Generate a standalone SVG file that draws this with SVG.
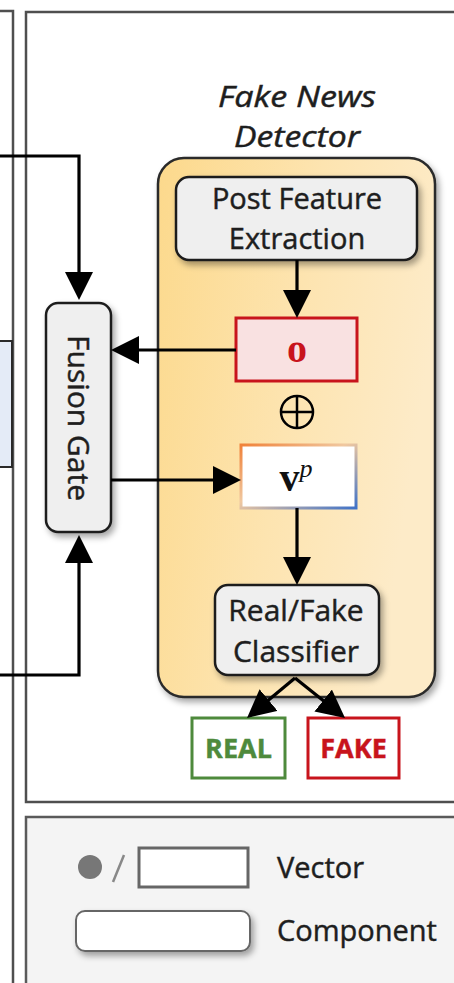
<svg xmlns="http://www.w3.org/2000/svg" width="454" height="983" viewBox="0 0 454 983">
  <defs>
    <style>
      .frame { fill: #ffffff; stroke: #4f4f4f; stroke-width: 2.5; }
      .conn { fill: none; stroke: #000; stroke-width: 3.2; }
      .comp { fill: #efefef; stroke: #1e1e1e; stroke-width: 2.5; }
      .lbl { font-family: "Open Sans", "Liberation Sans", sans-serif; fill: #1e1e1e; stroke: #1e1e1e; stroke-width: 0.45; text-anchor: middle; }
      .leg { font-family: "Open Sans", "Liberation Sans", sans-serif; fill: #1e1e1e; stroke: #1e1e1e; stroke-width: 0.45; font-size: 29px; }
      .math { font-family: "Liberation Serif", "DejaVu Serif", serif; text-anchor: middle; }
    </style>
    <linearGradient id="detGrad" x1="0" y1="0" x2="1" y2="0.3">
      <stop offset="0" stop-color="#fcd98c"/>
      <stop offset="0.55" stop-color="#fde4b0"/>
      <stop offset="1" stop-color="#fdebc8"/>
    </linearGradient>
    <linearGradient id="vpStroke" x1="0" y1="0" x2="1" y2="1">
      <stop offset="0" stop-color="#f0823a"/>
      <stop offset="0.45" stop-color="#f0c8a0"/>
      <stop offset="1" stop-color="#3f72c8"/>
    </linearGradient>
    <filter id="shadow" x="-20%" y="-20%" width="150%" height="150%">
      <feDropShadow dx="3" dy="4" stdDeviation="3" flood-color="#000" flood-opacity="0.35"/>
    </filter>
    <marker id="arrow" viewBox="0 0 28 28" markerUnits="userSpaceOnUse" markerWidth="28" markerHeight="28" refX="24" refY="14" orient="auto">
      <path d="M0,0 L28,14 L0,28 z" fill="#000"/>
    </marker>
  </defs>

  <!-- neighbouring panel edge on the left -->
  <g id="left-panel">
    <path d="M0,11 H13 V990" fill="none" stroke="#4f4f4f" stroke-width="2.5"/>
    <rect x="-6" y="341" width="18" height="126" fill="#e4ebf7" stroke="#2a2a2a" stroke-width="2"/>
  </g>

  <!-- main panel and legend panel -->
  <rect id="main-panel" class="frame" x="26" y="12" width="440" height="790"/>
  <rect id="legend-panel" x="26" y="817" width="440" height="180" fill="#f4f4f4" stroke="#5a5a5a" stroke-width="2.5"/>

  <!-- detector container -->
  <g id="detector">
    <rect x="158" y="158" width="277" height="539" rx="26" fill="url(#detGrad)" stroke="#2a2a2a" stroke-width="2.5" filter="url(#shadow)"/>
    <text class="lbl" font-style="italic" font-size="29" x="297" y="107" textLength="158" lengthAdjust="spacingAndGlyphs">Fake News</text>
    <text class="lbl" font-style="italic" font-size="29" x="297" y="147" textLength="126" lengthAdjust="spacingAndGlyphs">Detector</text>
  </g>

  <g id="post-feature-extraction">
    <rect class="comp" x="176" y="177" width="241" height="83" rx="13" filter="url(#shadow)"/>
    <text class="lbl" font-size="29" x="297" y="209">Post Feature</text>
    <text class="lbl" font-size="29" x="297" y="249">Extraction</text>
  </g>

  <g id="o-vector">
    <rect x="236" y="318" width="121" height="63" fill="#f9e1e1" stroke="#c8141c" stroke-width="3"/>
    <text class="math" font-size="40" font-weight="bold" fill="#c8141c" x="297" y="362">o</text>
  </g>

  <g id="oplus">
    <circle cx="297" cy="412" r="16" fill="none" stroke="#000" stroke-width="2.5"/>
    <path d="M281,412 H313 M297,396 V428" stroke="#000" stroke-width="2.5"/>
  </g>

  <g id="vp-vector">
    <rect x="241" y="445" width="115" height="63" fill="#ffffff" stroke="url(#vpStroke)" stroke-width="3"/>
    <text class="math" x="296" y="491" fill="#111"><tspan font-size="40" font-weight="bold">v</tspan><tspan font-size="26" font-style="italic" dy="-14">p</tspan></text>
  </g>

  <g id="fusion-gate">
    <rect class="comp" x="46" y="303" width="65" height="229" rx="12" filter="url(#shadow)"/>
    <text class="lbl" font-size="30" transform="translate(68,418) rotate(90)" x="0" y="0">Fusion Gate</text>
  </g>

  <g id="classifier">
    <rect class="comp" x="215" y="585" width="164" height="90" rx="13" filter="url(#shadow)"/>
    <text class="lbl" font-size="30" x="296" y="621">Real/Fake</text>
    <text class="lbl" font-size="30" x="296" y="662">Classifier</text>
  </g>

  <g id="real">
    <rect x="192" y="718" width="93" height="60" fill="#ffffff" stroke="#4e8a3c" stroke-width="3"/>
    <text class="lbl" font-size="27" x="238.5" y="758" style="fill:#4e8a3c;stroke:#4e8a3c;font-weight:700">REAL</text>
  </g>

  <g id="fake">
    <rect x="308" y="718" width="91" height="60" fill="#ffffff" stroke="#c8141c" stroke-width="3"/>
    <text class="lbl" font-size="27" x="353.5" y="758" style="fill:#c8141c;stroke:#c8141c;font-weight:700">FAKE</text>
  </g>

  <!-- connectors -->
  <g id="connectors">
    <path class="conn" d="M0,156 H79 V296" marker-end="url(#arrow)"/>
    <path class="conn" d="M0,675 H79 V539" marker-end="url(#arrow)"/>
    <path class="conn" d="M236,350 H115" marker-end="url(#arrow)"/>
    <path class="conn" d="M111,480 H237" marker-end="url(#arrow)"/>
    <path class="conn" d="M297,260 V314" marker-end="url(#arrow)"/>
    <path class="conn" d="M297,508 V581" marker-end="url(#arrow)"/>
    <path class="conn" d="M295,678 L250.1,715.4" marker-end="url(#arrow)"/>
    <path class="conn" d="M295,678 L341.9,715.5" marker-end="url(#arrow)"/>
  </g>

  <!-- legend -->
  <g id="legend">
    <circle cx="90" cy="867" r="12" fill="#777777"/>
    <path d="M124,855 L113,882" stroke="#888" stroke-width="2.5"/>
    <rect x="139" y="848" width="109" height="39" fill="#ffffff" stroke="#666" stroke-width="3"/>
    <text class="leg" x="277" y="878">Vector</text>
    <rect x="76" y="911" width="174" height="40" rx="9" fill="#ffffff" stroke="#666" stroke-width="2" filter="url(#shadow)"/>
    <text class="leg" x="277" y="941">Component</text>
  </g>
</svg>
